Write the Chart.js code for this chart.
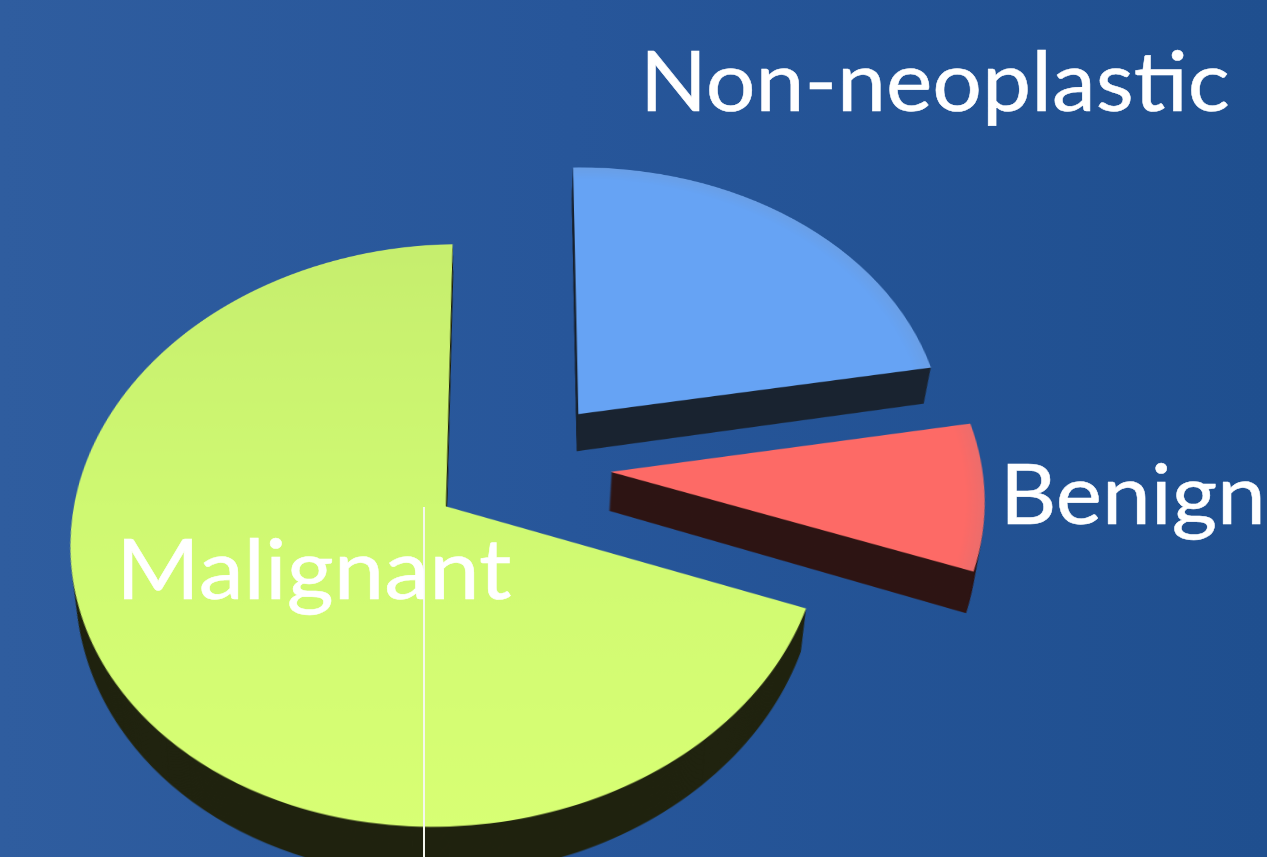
<!DOCTYPE html>
<html>
<head>
<meta charset="utf-8">
<script src="https://cdn.jsdelivr.net/npm/chart.js@4"></script>
<style>
  html, body { margin: 0; height: 100%; overflow: hidden; }
  body { width: 1267px; height: 857px; position: relative; background: linear-gradient(90deg, #2f5d9f 0%, #27569a 45%, #1f4f8f 100%); }
  /* the tilt gives the pie its perspective, centre of the canvas stays near 521,466 */
  #pie { position: absolute; left: -179px; top: -234px; transform-origin: 700px 700px; transform: perspective(2424px) rotateY(-1.5deg) rotateX(40.5deg); }
  .label { position: absolute; color: #fff; font-family: Lato, "Open Sans", sans-serif; line-height: 1; white-space: nowrap; font-size: 84px; transform-origin: 0 0; -webkit-text-stroke: 0.5px #fff; }
  #line { position: absolute; left: 423px; top: 507px; width: 2px; height: 350px; background: #f4f7ee; }
</style>
</head>
<body>
<canvas id="pie" width="1400" height="1400"></canvas>
<div id="line"></div>
<div class="label" style="left:640px; top:37px; transform:scaleX(1.045)">Non-neoplastic</div>
<div class="label" style="left:1000px; top:450px; transform:scaleX(1.04)">Benign</div>
<div class="label" style="left:116px; top:525px; transform:scaleX(1.077)">Malignant</div>
<script>
// Values, percent of the whole
const categories = ['Non-neoplastic', 'Benign', 'Malignant'];
const shares = [22.5, 8.3, 69.2];
const topColors = ['#66a3f4', '#fd6a66', '#d0fa72'];
const rimColors = ['#6a9fe6', '#ec6d6c', '#d8ff74'];
const sideColors = ['#1a2431', '#2e1514', '#20230f'];

const radius = 369;
const explode = 90;
const thickness = 50;

function topFill(ctx) {
    const g = ctx.chart.ctx;
    const cx = ctx.chart.width / 2, cy = ctx.chart.height / 2;
    if (ctx.dataIndex === 2) {
        const grad = g.createLinearGradient(0, cy - radius, 0, cy + radius);
        grad.addColorStop(0, '#c6ee6e');
        grad.addColorStop(0.5, '#cff972');
        grad.addColorStop(1, '#d8ff74');
        return grad;
    }
    const grad = g.createRadialGradient(cx, cy, 0, cx, cy, radius);
    grad.addColorStop(0, topColors[ctx.dataIndex]);
    grad.addColorStop(0.95, topColors[ctx.dataIndex]);
    grad.addColorStop(1, rimColors[ctx.dataIndex]);
    return grad;
}

// draws each slice pulled away from the centre, dark side first, then the top
const explodedPie = {
    id: 'explodedPie',
    beforeDatasetDraw(chart, args) {
        const g = chart.ctx;
        const arcs = args.meta.data;
        const cx = chart.width / 2, cy = chart.height / 2;
        arcs.forEach((arc, i) => {
            const mid = (arc.startAngle + arc.endAngle) / 2;
            const opts = arc.options;
            arc.options = Object.assign({}, opts, { backgroundColor: sideColors[i] });
            for (let t = thickness; t > 0; t--) {
                const k = 1 - 0.028 * t / thickness;
                g.save();
                g.translate(cx, cy + t);
                g.scale(k, 1);
                g.translate(-cx + Math.cos(mid) * explode, -cy + Math.sin(mid) * explode);
                arc.draw(g);
                g.restore();
            }
            arc.options = opts;
        });
        arcs.forEach(arc => {
            const mid = (arc.startAngle + arc.endAngle) / 2;
            g.save();
            g.translate(Math.cos(mid) * explode, Math.sin(mid) * explode);
            arc.draw(g);
            g.restore();
        });
        return false;
    }
};

new Chart(document.getElementById('pie'), {
    type: 'pie',
    data: {
        labels: categories,
        datasets: [{
            data: shares,
            backgroundColor: topFill,
            borderWidth: 0
        }]
    },
    options: {
        responsive: false,
        devicePixelRatio: 2,
        animation: false,
        events: [],
        radius: radius,
        rotation: -1,
        plugins: { legend: { display: false }, tooltip: { enabled: false } }
    },
    plugins: [explodedPie]
});
</script>
</body>
</html>
